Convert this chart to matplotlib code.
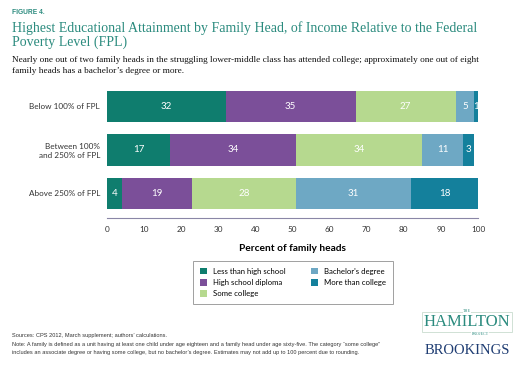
#!/usr/bin/env python3

import numpy as np
import matplotlib.pyplot as plt

# Data
groups = ['Below 100% of FPL', 'Between 100%\nand 250% of FPL', 'Above 250% of FPL']
categories = ['Less than high school', 'High school diploma', 'Some college',
              "Bachelor's degree", 'More than college']
less_than_hs = [32, 17, 4]
hs_diploma = [35, 34, 19]
some_college = [27, 34, 28]
bachelors = [5, 11, 31]
more_than_college = [1, 3, 18]
colors = ['#0f7d6e', '#7b4f99', '#b6d98f', '#6ea8c4', '#14809c']
ticks = list(range(0, 101, 10))

TEAL = '#2b8b7e'


def main():
    plt.rcParams['font.family'] = ['Lato', 'DejaVu Sans']
    series = [less_than_hs, hs_diploma, some_college, bachelors, more_than_college]

    fig = plt.figure(figsize=(5.3, 3.66), dpi=100)
    ax = fig.add_axes([0.2019, 0.4119, 0.70, 0.3566])
    for s in ['top', 'right', 'left']:
        ax.spines[s].set_visible(False)
    ax.spines['bottom'].set_color('#8a86a6')
    ax.spines['bottom'].set_linewidth(0.8)
    ax.spines['bottom'].set_position(('outward', 2))

    y = np.arange(len(groups))
    left = np.zeros(len(groups))
    for name, vals, col in zip(categories, series, colors):
        vals = np.array(vals, dtype=float)
        ax.barh(y, vals, left=left, height=0.72, color=col, label=name,
                edgecolor='none')
        for yi, (l, v) in enumerate(zip(left, vals)):
            ax.text(l + v / 2, yi, f'{int(v)}', ha='center', va='center',
                    color='white', fontsize=7)
        left += vals

    ax.set_ylim(2.5, -0.5)
    ax.set_xlim(0, 100)
    ax.set_yticks(y)
    ax.set_yticklabels(groups)
    ax.set_xticks(ticks)
    ax.tick_params(axis='both', length=0, labelsize=5.9, labelcolor='#333333')
    ax.tick_params(axis='y', pad=5)
    ax.tick_params(axis='x', pad=6)
    for lbl in ax.get_yticklabels():
        lbl.set_multialignment('right')
    ax.set_xlabel('Percent of family heads', fontsize=7.3,
                  fontweight='bold', labelpad=8)

    handles, labels = ax.get_legend_handles_labels()
    leg = fig.legend(handles, labels, loc='upper left', ncol=2,
                     bbox_to_anchor=(193 / 530, 1 - 261 / 366),
                     prop={'size': 5.6}, borderaxespad=0,
                     frameon=True, fancybox=False, handlelength=0.95,
                     handleheight=0.95, columnspacing=3.2, borderpad=0.85,
                     labelspacing=0.55, handletextpad=0.8)
    leg.get_frame().set_edgecolor('#888888')
    leg.get_frame().set_linewidth(0.7)

    # Titles
    fig.text(12 / 530, 1 - 13 / 366, 'FIGURE 4.', fontsize=4.8, color=TEAL,
             family='Liberation Sans', fontweight='bold', va='center')
    fig.text(12 / 530, 1 - 35 / 366,
             'Highest Educational Attainment by Family Head, of Income Relative to the Federal\n'
             'Poverty Level (FPL)',
             fontsize=10.0, color=TEAL, family='Liberation Serif', va='center',
             linespacing=1.1)
    fig.text(12 / 530, 1 - 65.5 / 366,
             'Nearly one out of two family heads in the struggling lower-middle class has attended college; '
             'approximately one out of eight\nfamily heads has a bachelor\u2019s degree or more.',
             fontsize=6.7, color='#111111', family='Liberation Serif', va='center',
             linespacing=1.35)

    # Footnotes
    fig.text(12 / 530, 1 - 335 / 366,
             'Sources: CPS 2012, March supplement; authors\u2019 calculations.',
             fontsize=4.1, color='#333333', family='Liberation Sans', va='center')
    fig.text(12 / 530, 1 - 348.5 / 366,
             'Note: A family is defined as a unit having at least one child under age eighteen and a family head '
             'under age sixty-five. The category \u201csome college\u201d\n'
             'includes an associate degree or having some college, but no bachelor\u2019s degree. '
             'Estimates may not add up to 100 percent due to rounding.',
             fontsize=4.1, color='#333333', family='Liberation Sans', va='center',
             linespacing=1.6)

    # Logos as text
    fig.text(467 / 530, 1 - 322 / 366, 'HAMILTON', fontsize=12, color=TEAL,
             family='Liberation Serif', ha='center', va='center',
             bbox=dict(facecolor='white', edgecolor='#c9dccf', linewidth=0.6, pad=1.2))
    fig.text(467 / 530, 1 - 311 / 366, 'THE', fontsize=3, color=TEAL,
             family='Liberation Serif', ha='center', va='center',
             bbox=dict(facecolor='white', edgecolor='none', pad=0.3))
    fig.text(480 / 530, 1 - 334 / 366, 'PROJECT', fontsize=3, color=TEAL,
             family='Liberation Serif', ha='center', va='center',
             bbox=dict(facecolor='white', edgecolor='none', pad=0.3))
    fig.text(467 / 530, 1 - 350 / 366, 'BROOKINGS', fontsize=10.5, color='#1f3d73',
             family='Liberation Serif', ha='center', va='center')

    fig.savefig('out.png', dpi=100)


if __name__ == "__main__":
    main()
